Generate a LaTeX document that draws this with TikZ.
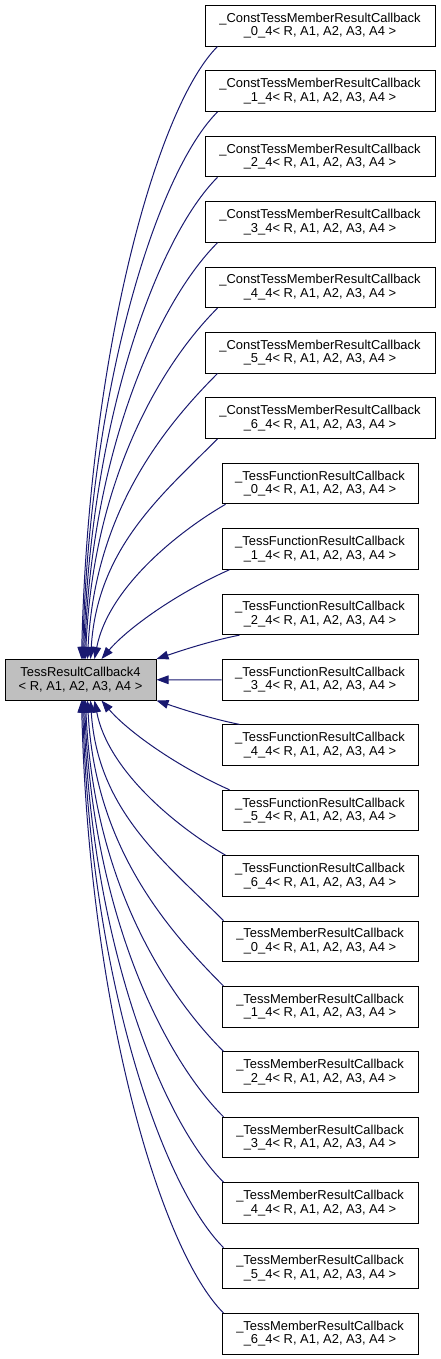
\documentclass[tikz,border=0pt]{standalone}
\usepackage{fontspec}
\setmainfont{Liberation Sans}
\usetikzlibrary{arrows.meta,calc}
\definecolor{edgeblue}{HTML}{191970}
\definecolor{basegray}{HTML}{BFBFBF}
\begin{document}
\begin{tikzpicture}[x=0.75pt,y=-0.75pt,
  every node/.style={font=\fontsize{9.7pt}{10.2pt}\selectfont, align=center, inner sep=0pt},
  basebox/.style={draw=black, line width=0.75pt, fill=basegray, minimum width=113.25pt, minimum height=30.4pt},
  cbox/.style={draw=black, line width=0.75pt, fill=white, minimum width=172.5pt, minimum height=30.4pt},
  fbox/.style={draw=black, line width=0.75pt, fill=white, minimum width=147pt, minimum height=30.4pt},
  edge/.style={draw=edgeblue, line width=0.75pt, -{Triangle[length=9pt,width=6.5pt]}}
]
\useasboundingbox (0,0) rectangle (440,1359);
\node[basebox] (base) at (80.5,679.75) {TessResultCallback4\\< R, A1, A2, A3, A4 >};
\foreach \k in {0,...,6} {
  \node[cbox] (n\k) at (320,{25.75+65.4*\k}) {\_ConstTessMemberResultCallback\\\_\k\_4< R, A1, A2, A3, A4 >};
}
\foreach \k in {0,...,6} {
  \pgfmathtruncatemacro\nn{\k+7}
  \node[fbox] (n\nn) at (320,{25.75+65.4*\nn}) {\_TessFunctionResultCallback\\\_\k\_4< R, A1, A2, A3, A4 >};
}
\foreach \k in {0,...,6} {
  \pgfmathtruncatemacro\nn{\k+14}
  \node[fbox] (n\nn) at (320,{25.75+65.4*\nn}) {\_TessMemberResultCallback\\\_\k\_4< R, A1, A2, A3, A4 >};
}
% upper far edges
\foreach \i/\ex in {0/82,1/83,2/84,3/85,4/86,5/88,6/91} {
  \pgfmathsetmacro\sy{46+65.4*\i}
  \pgfmathsetmacro\dx{218-\ex}
  \pgfmathsetmacro\dy{659-\sy}
  \draw[edge] ($(n\i.south west)+(13,0)$) .. controls ({218-0.45*\dx},{\sy+0.45*\dx}) and ({\ex+0.05*\dx},{659-0.5*\dy}) .. ($(base.north west)+(\ex-5,0)$);
}
% lower far edges
\foreach \i/\ex in {0/82,1/83,2/84,3/85,4/86,5/88,6/91} {
  \pgfmathtruncatemacro\j{20-\i}
  \pgfmathsetmacro\sy{5.5+65.4*\j}
  \pgfmathsetmacro\dx{224-\ex}
  \pgfmathsetmacro\dy{\sy-700.5}
  \draw[edge] ($(n\j.north west)+(2,0)$) .. controls ({224-0.45*\dx},{\sy-0.45*\dx}) and ({\ex+0.05*\dx},{700.5+0.5*\dy}) .. ($(base.south west)+(\ex-5,0)$);
}
% near edges
\draw[edge] ($(n7.south west)+(4,0)$) .. controls (176,533) and (108,589) .. ($(base.north west)+(90,0)$);
\draw[edge] ($(n13.north west)+(4,0)$) .. controls (176,826.5) and (108,770.5) .. ($(base.south west)+(90,0)$);
\draw[edge] ($(n8.south west)+(8,0)$) .. controls (175,594) and (127,629) .. ($(base.north west)+(97,0)$);
\draw[edge] ($(n12.north west)+(8,0)$) .. controls (175,765.5) and (127,730.5) .. ($(base.south west)+(97,0)$);
\draw[edge] ($(n9.south west)+(18,0)$) .. controls (210,641) and (180,651) .. (base.north east);
\draw[edge] ($(n11.north west)+(18,0)$) .. controls (210,718.5) and (180,708.5) .. (base.south east);
\draw[edge] (n10.west) -- (base.east);
\end{tikzpicture}
\end{document}
